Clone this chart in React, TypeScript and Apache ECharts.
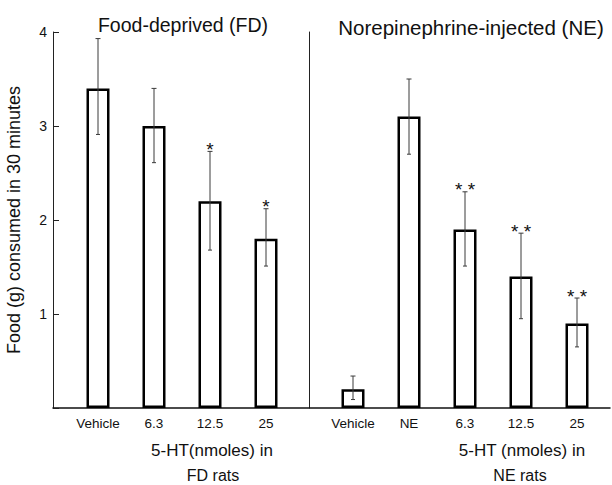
import React, { useEffect, useRef } from "react";
import * as echarts from "echarts";

const categoriesFD = ["Vehicle", "6.3", "12.5", "25"];
const meanFD = [3.4, 3.0, 2.2, 1.8];
const lowFD = [2.91, 2.61, 1.68, 1.51];
const highFD = [3.93, 3.4, 2.73, 2.12];
const starsFD = ["", "", "*", "*"];

const categoriesNE = ["Vehicle", "NE", "6.3", "12.5", "25"];
const meanNE = [0.2, 3.1, 1.9, 1.4, 0.9];
const lowNE = [0.09, 2.7, 1.51, 0.95, 0.65];
const highNE = [0.34, 3.5, 2.3, 1.86, 1.17];
const starsNE = ["", "", "* *", "* *", "* *"];

const yTicks = [0, 1, 2, 3, 4];

const FONT = "'Liberation Sans', Arial, sans-serif";

function errorRenderer(stars: string[]) {
  return (params: any, api: any) => {
    const idx = api.value(0);
    const x = api.coord([idx, 0])[0];
    const top = api.coord([idx, api.value(2)])[1];
    const bot = api.coord([idx, api.value(1)])[1];
    const st = { stroke: "#3a3a3a", lineWidth: 1 };
    const children: any[] = [
      { type: "line", shape: { x1: x, y1: top, x2: x, y2: bot }, style: st },
      { type: "line", shape: { x1: x - 2.5, y1: top, x2: x + 2.5, y2: top }, style: st },
      { type: "line", shape: { x1: x - 2, y1: bot, x2: x + 2, y2: bot }, style: st },
    ];
    const s = stars[params.dataIndex];
    if (s) {
      children.push({
        type: "text",
        style: {
          text: s,
          x: x,
          y: top - 2,
          align: "center",
          verticalAlign: "middle",
          font: `19px ${FONT}`,
          fill: "#111",
        },
      });
    }
    return { type: "group", children };
  };
}

export default function App() {
  const ref = useRef<HTMLDivElement>(null);
  useEffect(() => {
    if (!ref.current) return;
    const chart = echarts.init(ref.current, undefined, { renderer: "svg" });
    const yMin = yTicks[0];
    const yMax = yTicks[yTicks.length - 1];
    const catLabel = { color: "#111", fontSize: 13.5, fontFamily: FONT, margin: 8, interval: 0 };
    chart.setOption({
      animation: false,
      backgroundColor: "#fff",
      grid: [
        { left: 70, top: 32, width: 224, height: 376 },
        { left: 325, top: 32, width: 280, height: 376 },
        { left: 53, top: 32, width: 557, height: 376 },
      ],
      xAxis: [
        {
          gridIndex: 0,
          type: "category",
          data: categoriesFD,
          axisLine: { show: false },
          axisTick: { show: false },
          axisLabel: catLabel,
        },
        {
          gridIndex: 1,
          type: "category",
          data: categoriesNE,
          axisLine: { show: false },
          axisTick: { show: false },
          axisLabel: catLabel,
        },
        {
          gridIndex: 2,
          type: "value",
          min: 0,
          max: 1,
          axisLine: { show: true, lineStyle: { color: "#111", width: 1.5 } },
          axisTick: { show: false },
          axisLabel: { show: false },
          splitLine: { show: false },
        },
      ],
      yAxis: [
        {
          gridIndex: 0,
          type: "value",
          min: yMin,
          max: yMax,
          interval: 1,
          offset: 17,
          name: "Food (g) consumed in 30 minutes",
          nameLocation: "middle",
          nameGap: 30,
          nameTextStyle: { color: "#111", fontSize: 18, fontFamily: FONT },
          axisLine: { show: true, lineStyle: { color: "#222", width: 1 } },
          axisTick: { show: true, inside: true, length: 6, lineStyle: { color: "#222" } },
          axisLabel: {
            color: "#111",
            fontSize: 14,
            fontFamily: FONT,
            margin: 6,
            formatter: (v: number) => (v === 0 ? "" : String(v)),
          },
          splitLine: { show: false },
        },
        {
          gridIndex: 1,
          type: "value",
          min: yMin,
          max: yMax,
          interval: 1,
          offset: 16,
          axisLine: { show: true, lineStyle: { color: "#222", width: 1 } },
          axisTick: { show: false },
          axisLabel: { show: false },
          splitLine: { show: false },
        },
        {
          gridIndex: 2,
          type: "value",
          min: yMin,
          max: yMax,
          show: false,
        },
      ],
      series: [
        {
          type: "bar",
          xAxisIndex: 0,
          yAxisIndex: 0,
          data: meanFD,
          barWidth: 23,
          z: 2,
          itemStyle: { color: "#fff", borderColor: "#000", borderWidth: 2.5 },
        },
        {
          type: "bar",
          xAxisIndex: 1,
          yAxisIndex: 1,
          data: meanNE,
          barWidth: 23,
          z: 2,
          itemStyle: { color: "#fff", borderColor: "#000", borderWidth: 2.5 },
        },
        {
          type: "custom",
          xAxisIndex: 0,
          yAxisIndex: 0,
          z: 3,
          data: categoriesFD.map((_, i) => [i, lowFD[i], highFD[i]]),
          encode: { x: 0, y: [1, 2] },
          renderItem: errorRenderer(starsFD),
        },
        {
          type: "custom",
          xAxisIndex: 1,
          yAxisIndex: 1,
          z: 3,
          data: categoriesNE.map((_, i) => [i, lowNE[i], highNE[i]]),
          encode: { x: 0, y: [1, 2] },
          renderItem: errorRenderer(starsNE),
        },
      ],
      graphic: [
        {
          type: "text",
          x: 183,
          y: 25,
          style: { text: "Food-deprived (FD)", align: "center", verticalAlign: "middle", font: `19.5px ${FONT}`, fill: "#111" },
        },
        {
          type: "text",
          x: 471,
          y: 27,
          style: { text: "Norepinephrine-injected (NE)", align: "center", verticalAlign: "middle", font: `20.5px ${FONT}`, fill: "#111" },
        },
        {
          type: "text",
          x: 212,
          y: 450,
          style: { text: "5-HT(nmoles) in", align: "center", verticalAlign: "middle", font: `17px ${FONT}`, fill: "#111" },
        },
        {
          type: "text",
          x: 213,
          y: 475,
          style: { text: "FD rats", align: "center", verticalAlign: "middle", font: `16px ${FONT}`, fill: "#111" },
        },
        {
          type: "text",
          x: 522,
          y: 450,
          style: { text: "5-HT (nmoles) in", align: "center", verticalAlign: "middle", font: `17px ${FONT}`, fill: "#111" },
        },
        {
          type: "text",
          x: 520,
          y: 475,
          style: { text: "NE rats", align: "center", verticalAlign: "middle", font: `16px ${FONT}`, fill: "#111" },
        },
      ],
    });
    return () => chart.dispose();
  }, []);
  return (
    <div
      ref={ref}
      style={{ position: "fixed", left: 0, top: 0, width: 612, height: 485, background: "#fff" }}
    />
  );
}
